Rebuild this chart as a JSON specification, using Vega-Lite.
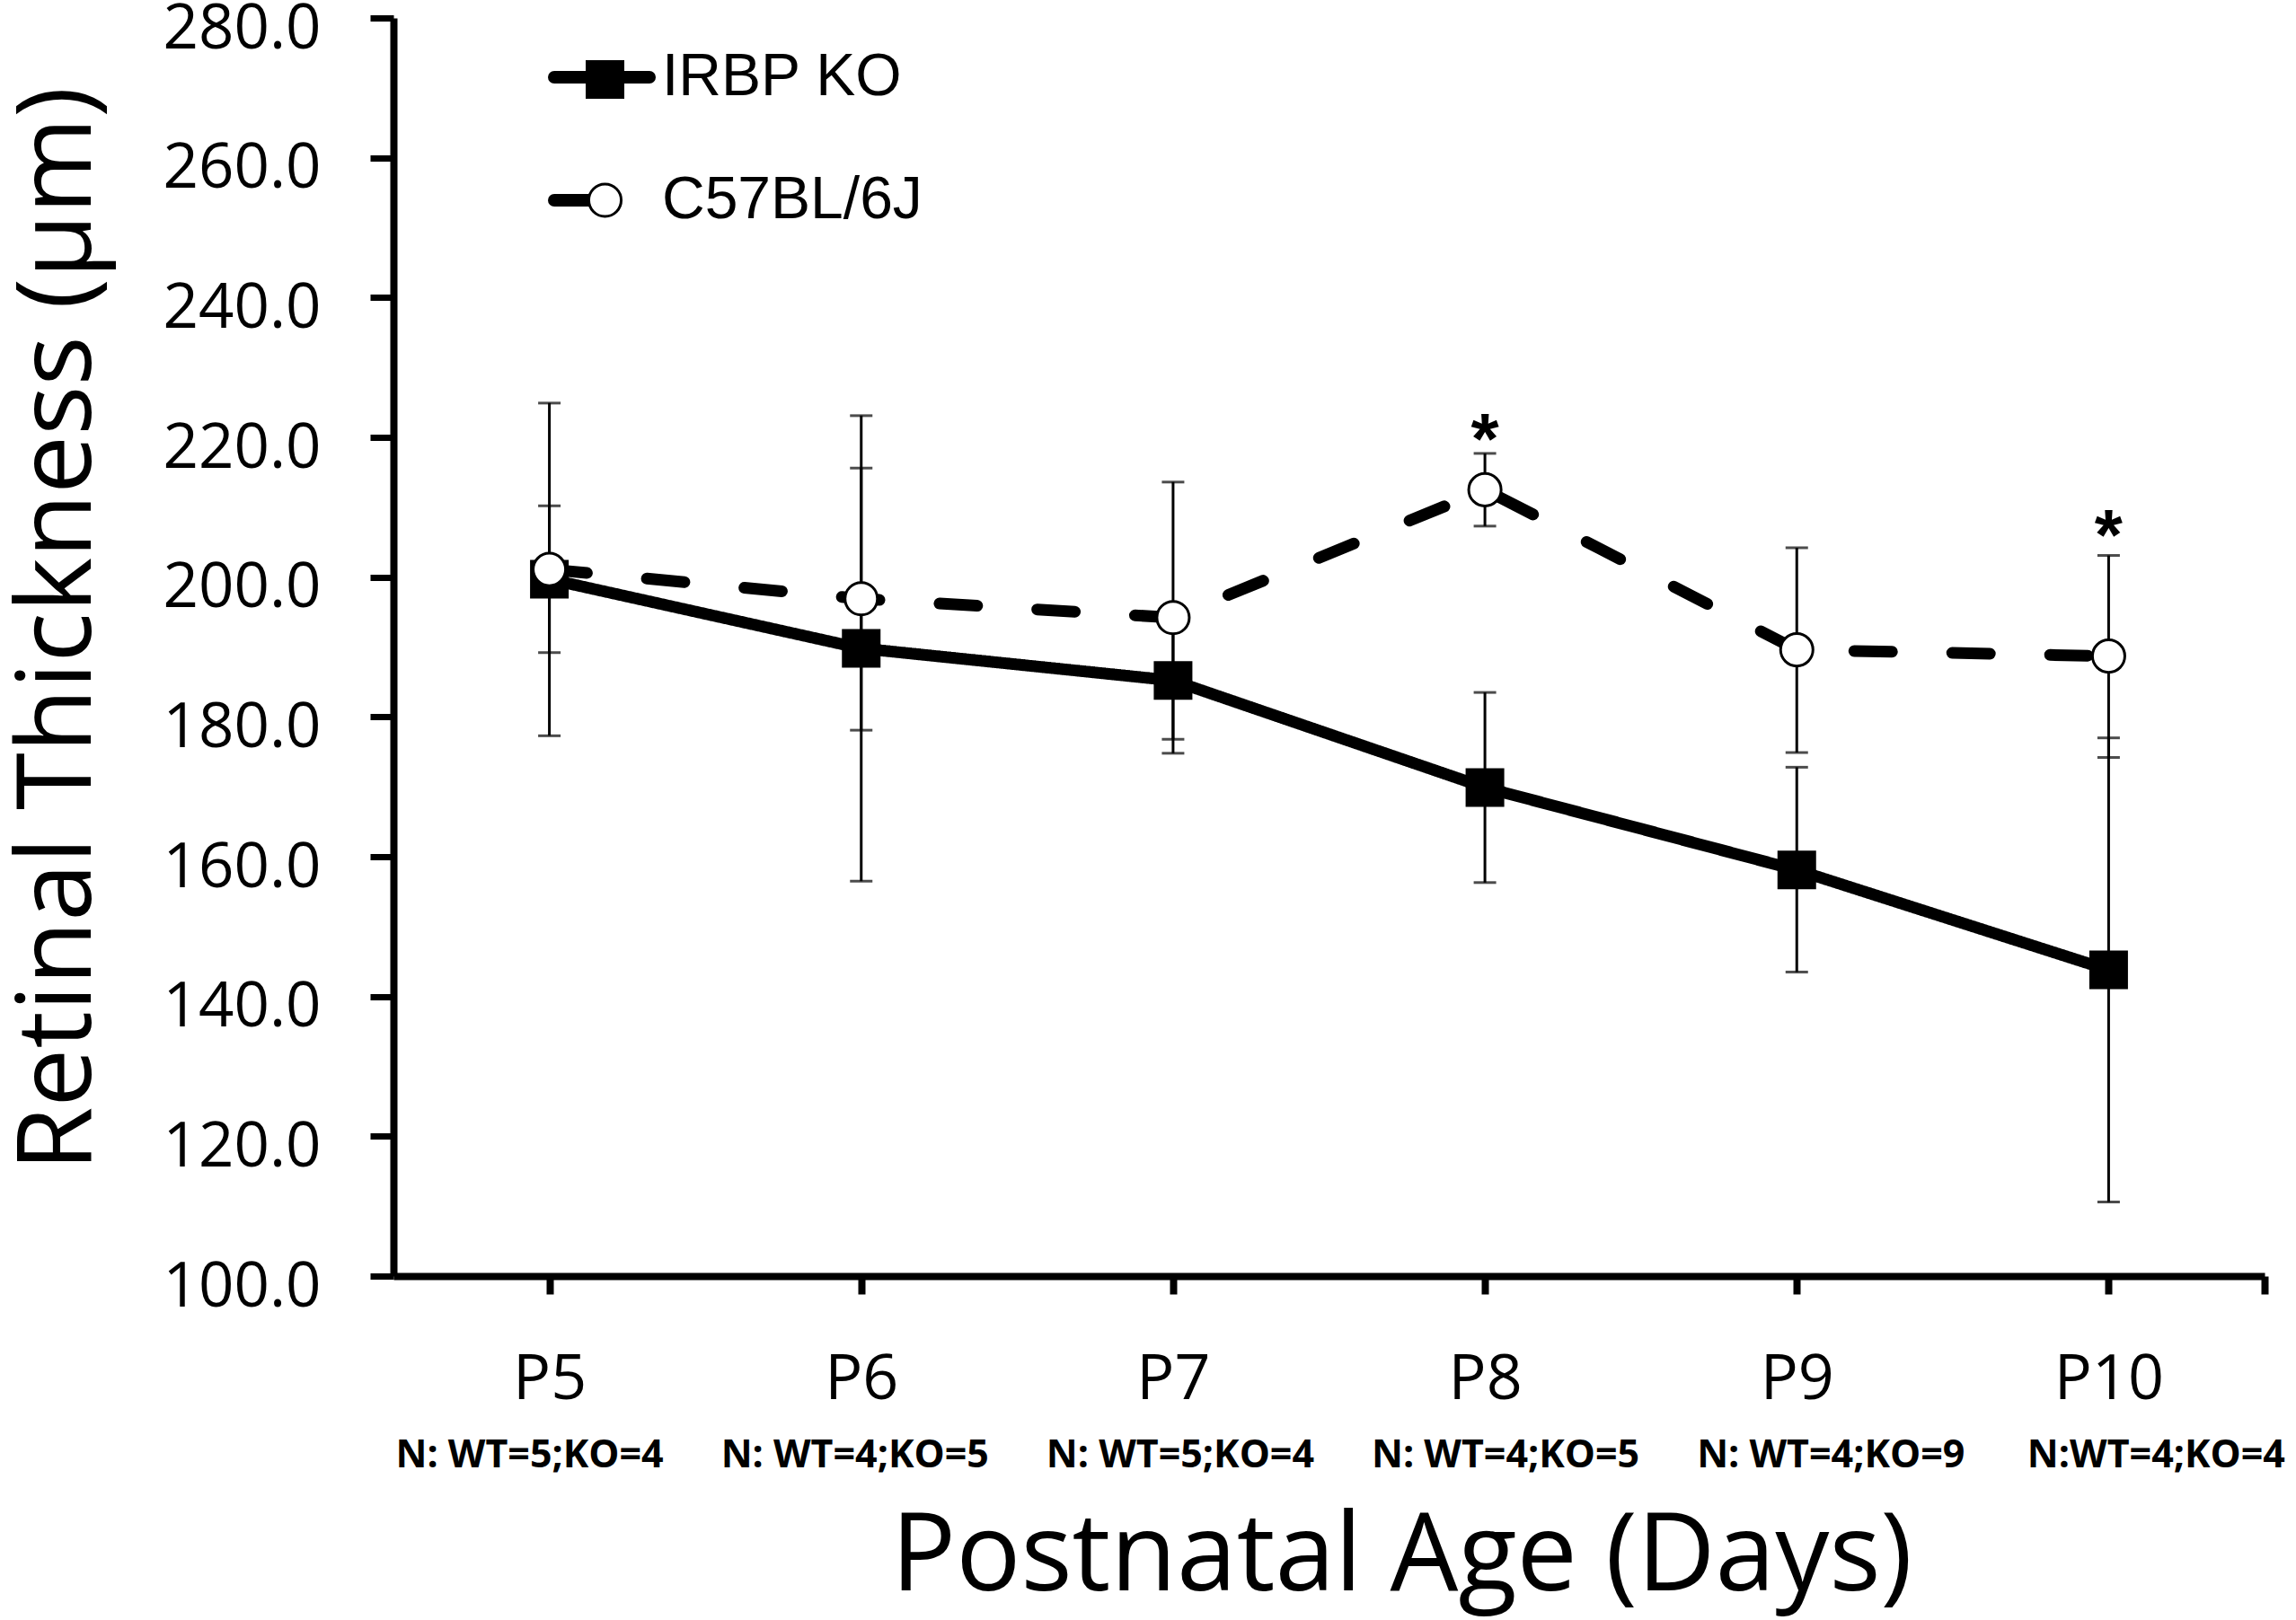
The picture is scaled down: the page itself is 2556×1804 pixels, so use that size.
{
  "$schema": "https://vega.github.io/schema/vega-lite/v6.json",
  "width": 2083,
  "height": 1401,
  "autosize": "none",
  "padding": {"left": 438, "top": 20, "right": 35, "bottom": 383},
  "background": "white",
  "config": {
    "view": {"stroke": null},
    "axis": {"grid": false, "domainColor": "black", "tickColor": "black", "labelColor": "black", "titleColor": "black", "labelFont": "Open Sans", "titleFont": "Open Sans", "titleFontWeight": "normal", "labelLimit": 0, "titleLimit": 0},
    "legend": {"labelLimit": 0}
  },
  "datasets": {
    "stats": [
      {"series": "IRBP KO", "day": 5, "mean": 199.7, "lo": 189.2, "hi": 210.2},
      {"series": "IRBP KO", "day": 6, "mean": 189.8, "lo": 156.5, "hi": 223.1},
      {"series": "IRBP KO", "day": 7, "mean": 185.2, "lo": 176.8, "hi": 193.6},
      {"series": "IRBP KO", "day": 8, "mean": 169.9, "lo": 156.3, "hi": 183.5},
      {"series": "IRBP KO", "day": 9, "mean": 158.1, "lo": 143.5, "hi": 172.8},
      {"series": "IRBP KO", "day": 10, "mean": 143.8, "lo": 110.6, "hi": 177.0},
      {"series": "C57BL/6J", "day": 5, "mean": 201.1, "lo": 177.3, "hi": 224.9},
      {"series": "C57BL/6J", "day": 6, "mean": 196.9, "lo": 178.1, "hi": 215.6},
      {"series": "C57BL/6J", "day": 7, "mean": 194.2, "lo": 174.8, "hi": 213.6},
      {"series": "C57BL/6J", "day": 8, "mean": 212.5, "lo": 207.3, "hi": 217.7},
      {"series": "C57BL/6J", "day": 9, "mean": 189.6, "lo": 174.9, "hi": 204.2},
      {"series": "C57BL/6J", "day": 10, "mean": 188.7, "lo": 174.2, "hi": 203.1}
    ],
    "stars": [
      {"day": 8, "y": 222.0, "label": "*"},
      {"day": 10, "y": 208.3, "label": "*"}
    ]
  },
  "resolve": {"axis": {"x": "independent"}},
  "layer": [
    {
      "data": {"name": "stats"},
      "mark": {"type": "rule", "color": "black", "strokeWidth": 3},
      "encoding": {
        "x": {
          "field": "day", "type": "quantitative",
          "scale": {"domain": [4.5, 10.5], "nice": false, "zero": false},
          "axis": {
            "values": [5, 6, 7, 8, 9, 10, 10.5],
            "labelExpr": "datum.value == 10.5 ? '' : 'P' + datum.value",
            "domainWidth": 8, "tickWidth": 8, "tickSize": 20,
            "labelFontSize": 70, "labelBaseline": "alphabetic", "labelPadding": 116,
            "labelFlush": false, "labelOverlap": false,
            "title": "Postnatal Age (Days)", "titleFontSize": 120,
            "titleX": 1122, "titleY": 349, "titleBaseline": "alphabetic", "titleAlign": "center", "titleAnchor": null
          }
        },
        "y": {
          "field": "lo", "type": "quantitative",
          "scale": {"domain": [100, 280], "nice": false, "zero": false},
          "axis": {
            "values": [100, 120, 140, 160, 180, 200, 220, 240, 260, 280],
            "format": ".1f",
            "domainWidth": 8, "tickWidth": 7, "tickSize": 26,
            "labelFontSize": 69, "labelPadding": 55, "labelOffset": 12,
            "title": "Retinal Thickness (µm)", "titleFontSize": 116,
            "titleX": -338, "titleY": 680, "titleBaseline": "alphabetic", "titleAlign": "center", "titleAngle": -90
          }
        },
        "y2": {"field": "hi"}
      }
    },
    {
      "data": {"name": "stats"},
      "mark": {"type": "tick", "orient": "horizontal", "color": "black", "size": 25, "thickness": 3},
      "encoding": {
        "x": {"field": "day", "type": "quantitative", "axis": null},
        "y": {"field": "lo", "type": "quantitative", "title": "Retinal Thickness (µm)"}
      }
    },
    {
      "data": {"name": "stats"},
      "mark": {"type": "tick", "orient": "horizontal", "color": "black", "size": 25, "thickness": 3},
      "encoding": {
        "x": {"field": "day", "type": "quantitative", "axis": null},
        "y": {"field": "hi", "type": "quantitative", "title": "Retinal Thickness (µm)"}
      }
    },
    {
      "data": {"name": "stats"},
      "mark": {"type": "line", "color": "black", "strokeWidth": 13, "strokeCap": "round", "strokeJoin": "round"},
      "encoding": {
        "x": {"field": "day", "type": "quantitative", "axis": null},
        "y": {"field": "mean", "type": "quantitative", "title": "Retinal Thickness (µm)"},
        "detail": {"field": "series"},
        "strokeDash": {
          "field": "series", "type": "nominal",
          "scale": {"domain": ["IRBP KO", "C57BL/6J"], "range": [[1, 0], [42, 67]]},
          "legend": {
            "title": null, "orient": "none", "legendX": 172, "legendY": 6,
            "symbolType": "stroke", "symbolSize": 11236, "symbolStrokeWidth": 14, "symbolStrokeColor": "black",
            "labelFont": "Liberation Sans", "labelFontSize": 66, "labelColor": "black", "labelOffset": 7, "labelLimit": 0,
            "rowPadding": 44,
            "encode": {"symbols": {"update": {
              "strokeCap": {"value": "round"},
              "strokeDash": {"signal": "datum.value === 'C57BL/6J' ? [34, 300] : [1, 0]"}
            }}}
          }
        }
      }
    },
    {
      "data": {"name": "stats"},
      "mark": {"type": "point", "filled": false, "opacity": 1, "stroke": "black", "strokeWidth": 3},
      "encoding": {
        "x": {
          "field": "day", "type": "quantitative",
          "axis": {
            "orient": "bottom",
            "values": [5, 6, 7, 8, 9, 10],
            "labelExpr": "['', '', '', '', '', 'N: WT=5;KO=4', 'N: WT=4;KO=5', 'N: WT=5;KO=4', 'N: WT=4;KO=5', 'N: WT=4;KO=9', 'N:WT=4;KO=4'][datum.value]",
            "domain": false, "ticks": false,
            "labelFont": "Open Sans", "labelFontWeight": "bold", "labelFontSize": 43,
            "labelBaseline": "alphabetic", "labelPadding": 212,
            "labelOffset": {"expr": "15 + 15 * (datum.value - 7.5)"},
            "labelFlush": false, "labelOverlap": false, "title": null
          }
        },
        "y": {"field": "mean", "type": "quantitative", "title": "Retinal Thickness (µm)"},
        "shape": {
          "field": "series", "type": "nominal", "sort": "descending",
          "scale": {"range": ["square", "circle"]},
          "legend": {
            "title": null, "orient": "top-left", "offset": 47, "symbolOffset": 167,
            "labelExpr": "''", "symbolStrokeWidth": 3, "symbolStrokeColor": "black",
            "rowPadding": 83,
            "encode": {"symbols": {"update": {
              "fill": {"signal": "datum.value === 'IRBP KO' ? 'black' : 'white'"},
              "stroke": {"value": "black"},
              "opacity": {"value": 1}
            }}}
          }
        },
        "fill": {
          "field": "series", "type": "nominal", "sort": "descending",
          "scale": {"range": ["black", "white"]},
          "legend": {"title": null, "orient": "top-left", "offset": 47, "symbolOffset": 167, "labelExpr": "''", "rowPadding": 83}
        },
        "size": {
          "field": "series", "type": "nominal", "sort": "descending",
          "scale": {"range": [1600, 1300]},
          "legend": {"title": null, "orient": "top-left", "offset": 47, "symbolOffset": 167, "labelExpr": "''", "rowPadding": 83}
        }
      }
    },
    {
      "data": {"name": "stars"},
      "mark": {"type": "text", "font": "Liberation Sans", "fontWeight": "bold", "fontSize": 80, "color": "black", "baseline": "alphabetic", "dy": 45},
      "encoding": {
        "x": {"field": "day", "type": "quantitative", "axis": null},
        "y": {"field": "y", "type": "quantitative", "title": "Retinal Thickness (µm)"},
        "text": {"field": "label"}
      }
    }
  ]
}
